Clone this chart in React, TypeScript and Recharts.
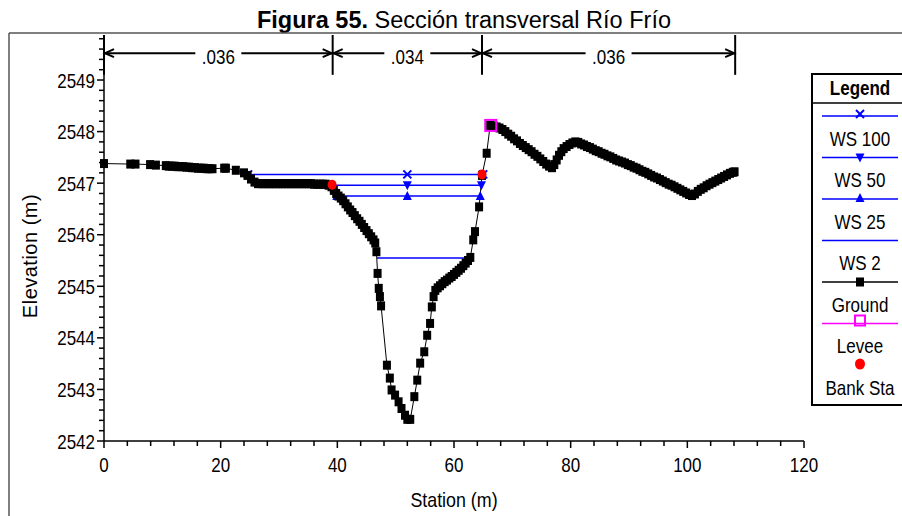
import { ComposedChart, Line, Scatter, XAxis, YAxis, ReferenceLine } from "recharts";

// ground profile (station m, elevation m)
const groundStation = [
  0, 4.5, 5.4, 7.9, 8.9, 10.6, 11.1, 11.6, 12.1, 12.6, 13.1, 13.6, 14.1, 14.6, 15.1, 15.6, 16.1, 16.6, 17.1, 17.6,
  18.1, 18.6, 20.6, 20.9, 22.6, 24.0, 24.6, 25.2, 25.8, 26.4, 27.0, 27.5, 28.0, 28.5, 29.0, 29.5, 30.0, 30.5, 31.0,
  31.5, 32.0, 32.5, 33.0, 33.5, 34.0, 34.5, 35.0, 35.5, 36.0, 36.5, 37.0, 37.5, 38.0, 38.5, 39.0,
  // channel
  39.4, 39.8, 40.2, 40.6, 41.0, 41.4, 41.8, 42.2, 42.6, 43.0, 43.4, 43.8, 44.2, 44.6, 45.0, 45.4, 45.8, 46.2, 46.5,
  46.7, 46.9, 47.1, 47.3, 47.5, 48.5, 49.0, 49.3, 49.9, 50.5, 51.0, 51.6, 52.0, 52.5, 53.2, 53.7, 54.2, 54.9, 55.4,
  55.9, 56.2, 56.5, 56.8, 57.2, 57.6, 58.0, 58.4, 58.8, 59.2, 59.6, 60.0, 60.4, 60.8, 61.2, 61.6, 62.0, 62.4, 62.8,
  63.3, 63.6, 64.3, 64.8, 65.6,
  // right overbank
  66.2, 66.8, 67.3, 67.8, 68.3, 68.8, 69.3, 69.8, 70.3, 70.8, 71.3, 71.8, 72.3, 72.8, 73.3, 73.8, 74.3, 74.8, 75.3,
  75.8, 76.3, 76.8, 77.2, 77.6, 78.0, 78.4, 78.8, 79.3, 79.8, 80.3, 80.8, 81.3, 81.8, 82.3, 82.8, 83.3, 83.8, 84.3,
  84.8, 85.3, 85.8, 86.3, 86.8, 87.3, 87.8, 88.3, 88.8, 89.3, 89.8, 90.3, 90.8, 91.3, 91.8, 92.3, 92.8, 93.3, 93.8,
  94.3, 94.8, 95.3, 95.8, 96.3, 96.8, 97.3, 97.8, 98.3, 98.8, 99.3, 99.8, 100.3, 100.8, 101.3, 101.8, 102.3, 102.8,
  103.3, 103.8, 104.3, 104.8, 105.3, 105.8, 106.3, 106.8, 107.3, 107.8, 108.1,
];
const groundElev = [
  2547.38, 2547.37, 2547.37, 2547.36, 2547.35, 2547.34, 2547.33, 2547.33, 2547.33, 2547.32, 2547.32, 2547.32,
  2547.31, 2547.31, 2547.3, 2547.3, 2547.29, 2547.29, 2547.29, 2547.28, 2547.28, 2547.28, 2547.29, 2547.29, 2547.25,
  2547.2, 2547.15, 2547.08, 2547.02, 2546.99, 2546.99, 2546.99, 2546.99, 2546.99, 2546.99, 2546.99, 2546.99,
  2546.99, 2546.99, 2546.99, 2546.99, 2546.99, 2546.99, 2546.99, 2546.99, 2546.99, 2546.99, 2546.99, 2546.98,
  2546.98, 2546.98, 2546.98, 2546.98, 2546.96, 2546.93,
  // channel
  2546.86, 2546.8, 2546.75, 2546.71, 2546.66, 2546.6, 2546.54, 2546.48, 2546.43, 2546.37, 2546.31, 2546.26, 2546.2,
  2546.14, 2546.08, 2546.02, 2545.96, 2545.9, 2545.84, 2545.67, 2545.25, 2544.96, 2544.8, 2544.62, 2543.47, 2543.22,
  2542.99, 2542.89, 2542.76, 2542.63, 2542.5, 2542.42, 2542.42, 2542.86, 2543.18, 2543.51, 2543.73, 2544.05, 2544.28,
  2544.6, 2544.8, 2544.92, 2544.97, 2545.01, 2545.05, 2545.09, 2545.12, 2545.16, 2545.19, 2545.23, 2545.27, 2545.31,
  2545.35, 2545.4, 2545.45, 2545.5, 2545.56, 2545.9, 2546.06, 2546.54, 2547.15, 2547.58,
  // right overbank
  2548.12, 2548.11, 2548.09, 2548.07, 2548.04, 2548.0, 2547.95, 2547.91, 2547.86, 2547.82, 2547.77, 2547.73, 2547.69,
  2547.65, 2547.61, 2547.56, 2547.52, 2547.47, 2547.42, 2547.37, 2547.33, 2547.3, 2547.36, 2547.45, 2547.54, 2547.61,
  2547.67, 2547.71, 2547.75, 2547.78, 2547.8, 2547.79, 2547.76, 2547.74, 2547.71, 2547.69, 2547.66, 2547.63, 2547.61,
  2547.58, 2547.56, 2547.53, 2547.51, 2547.48, 2547.45, 2547.43, 2547.41, 2547.39, 2547.36, 2547.34, 2547.31, 2547.29,
  2547.26, 2547.23, 2547.21, 2547.18, 2547.15, 2547.12, 2547.1, 2547.07, 2547.04, 2547.01, 2546.98, 2546.96, 2546.93,
  2546.9, 2546.87, 2546.84, 2546.81, 2546.78, 2546.76, 2546.79, 2546.84, 2546.88, 2546.91, 2546.95, 2546.98, 2547.01,
  2547.04, 2547.07, 2547.1, 2547.13, 2547.16, 2547.19, 2547.21, 2547.22,
];

// water surfaces
const ws100Station = [24.7, 52, 65.0];
const ws100Elev = 2547.17;
const ws50Station = [38.5, 52, 64.7];
const ws50Elev = 2546.96;
const ws25Station = [39.9, 52, 64.5];
const ws25Elev = 2546.75;
const ws2Station = [46.8, 62.9];
const ws2Elev = 2545.55;

const bankStation = [39.1, 64.8];
const bankElev = [2546.97, 2547.17];
const leveeStation = [66.3];
const leveeElev = [2548.12];

// manning's n
const nBreaks = [0, 39.2, 64.8, 108.2];
const nValues = [".036", ".034", ".036"];

const xMajor = [0, 20, 40, 60, 80, 100, 120];
const yMajor = [2542, 2543, 2544, 2545, 2546, 2547, 2548, 2549];

const xTicks: number[] = [];
for (let v = 0; v <= 120; v += 4) xTicks.push(v);
const yTicks: number[] = [];
for (let i = 0; i < 40; i++) yTicks.push(Math.round((2542 + i * 0.2) * 10) / 10);

const Y_TOP = 2549.873;
const N_ARROW_Y = 2549.52;
const N_LINE_Y = 2549.1;

const SANS = "'Liberation Sans', Arial, sans-serif";
const SQ = 0.85; // the original figure is squeezed sideways
const BLUE = "#0000ff";

const groundData = groundStation.map((x, i) => ({ x, y: groundElev[i] }));
const flat = (st: number[], e: number) => st.map((x) => ({ x, y: e }));
const bankData = bankStation.map((x, i) => ({ x, y: bankElev[i] }));
const leveeData = leveeStation.map((x, i) => ({ x, y: leveeElev[i] }));

const NText = ({ x, y, anchor = "middle", size = 20, weight, children }: any) => (
  <text
    transform={`translate(${x} ${y}) scale(${SQ} 1)`}
    textAnchor={anchor}
    fontSize={size}
    fontWeight={weight}
    fontFamily={SANS}
    fill="#000"
    stroke="none"
  >
    {children}
  </text>
);

const XTick = ({ x, y, payload }: any) => {
  const major = xMajor.includes(payload.value);
  return (
    <g>
      <line x1={x} x2={x} y1={y} y2={y + (major ? 7 : 5)} stroke="#000" strokeWidth={1.5} />
      {major && <NText x={x} y={y + 31}>{payload.value}</NText>}
    </g>
  );
};

const YTick = ({ x, y, payload }: any) => {
  const major = yMajor.includes(payload.value);
  return (
    <g>
      <line x1={x - (major ? 7 : 5)} x2={x} y1={y} y2={y} stroke="#000" strokeWidth={1.5} />
      {major && <NText x={x - 9} y={y + 7.5} anchor="end">{payload.value}</NText>}
    </g>
  );
};

const square = (p: any) => (
  <rect key={p.index} x={p.cx - 4} y={p.cy - 4.5} width={8} height={9} fill="#000" />
);
const cross = (p: any) => (
  <g key={p.index} stroke={BLUE} strokeWidth={2}>
    <line x1={p.cx - 4} y1={p.cy - 4} x2={p.cx + 4} y2={p.cy + 4} />
    <line x1={p.cx - 4} y1={p.cy + 4} x2={p.cx + 4} y2={p.cy - 4} />
  </g>
);
const triDown = (p: any) => (
  <polygon key={p.index} points={`${p.cx - 4.5},${p.cy - 4} ${p.cx + 4.5},${p.cy - 4} ${p.cx},${p.cy + 5}`} fill={BLUE} />
);
const triUp = (p: any) => (
  <polygon key={p.index} points={`${p.cx - 4.5},${p.cy + 4} ${p.cx + 4.5},${p.cy + 4} ${p.cx},${p.cy - 5}`} fill={BLUE} />
);

const nArrow = (label: string) => (p: any) => {
  const { x1, y1, x2 } = p;
  const mid = (x1 + x2) / 2;
  const half = 23;
  return (
    <g stroke="#000" strokeWidth={2} fill="none">
      <line x1={x1} y1={y1} x2={mid - half} y2={y1} />
      <line x1={mid + half} y1={y1} x2={x2} y2={y1} />
      <polyline points={`${x1 + 10},${y1 - 4} ${x1 + 1},${y1} ${x1 + 10},${y1 + 4}`} />
      <polyline points={`${x2 - 10},${y1 - 4} ${x2 - 1},${y1} ${x2 - 10},${y1 + 4}`} />
      <NText x={mid} y={y1 + 11}>{label}</NText>
    </g>
  );
};

const legendItems = [
  { name: "WS 100", color: BLUE, marker: "x" },
  { name: "WS 50", color: BLUE, marker: "down" },
  { name: "WS 25", color: BLUE, marker: "up" },
  { name: "WS 2", color: BLUE, marker: "none" },
  { name: "Ground", color: "#000", marker: "square" },
  { name: "Levee", color: "#ff00ff", marker: "open" },
  { name: "Bank Sta", color: "#ff0000", marker: "dot" },
];

function LegendBox() {
  const cx = 49;
  return (
    <svg width={100} height={333} style={{ position: "absolute", left: 811, top: 73 }}>
      <rect x={1} y={1} width={110} height={331} fill="#fff" stroke="#000" strokeWidth={2} />
      <NText x={cx} y={22} weight="bold">Legend</NText>
      <line x1={1} x2={100} y1={30} y2={30} stroke="#000" strokeWidth={1.5} />
      {legendItems.map((it, i) => {
        const ly = 43 + i * 41.5;
        return (
          <g key={it.name}>
            {it.marker !== "dot" && <line x1={11} x2={87} y1={ly} y2={ly} stroke={it.color} strokeWidth={1.5} />}
            {it.marker === "x" && cross({ cx, cy: ly - 2, index: 0 })}
            {it.marker === "down" && triDown({ cx, cy: ly, index: 0 })}
            {it.marker === "up" && triUp({ cx, cy: ly - 1, index: 0 })}
            {it.marker === "square" && square({ cx, cy: ly, index: 0 })}
            {it.marker === "open" && (
              <rect x={cx - 5} y={ly - 8} width={10} height={10} fill="none" stroke={it.color} strokeWidth={2} />
            )}
            {it.marker === "dot" && <ellipse cx={cx} cy={ly - 1} rx={5} ry={5.5} fill={it.color} />}
            <NText x={cx} y={ly + 29.5}>{it.name}</NText>
          </g>
        );
      })}
    </svg>
  );
}

export default function App() {
  return (
    <div style={{ position: "absolute", left: 0, top: 0, width: 902, height: 516, overflow: "hidden", background: "#fff" }}>
      <svg width={902} height={516} style={{ position: "absolute", left: 0, top: 0 }}>
        <text x={464} y={28} textAnchor="middle" fontSize={23.5} fontFamily={SANS} fill="#000">
          <tspan fontWeight="bold">Figura 55.</tspan> Sección transversal Río Frío
        </text>
        <line x1={9} x2={902} y1={33} y2={33} stroke="#555" strokeWidth={1.5} />
        <line x1={9} x2={9} y1={33} y2={516} stroke="#555" strokeWidth={1.5} />
      </svg>
      <div style={{ position: "absolute", left: 0, top: 0 }}>
        <ComposedChart width={902} height={516} margin={{ top: 35, right: 98, bottom: 35, left: 44 }}>
          <XAxis
            type="number"
            dataKey="x"
            domain={[0, 120]}
            ticks={xTicks}
            interval={0}
            tickSize={0}
            tickMargin={0}
            tickLine={false}
            tick={<XTick />}
            height={40}
            axisLine={{ stroke: "#000", strokeWidth: 1.5 }}
            label={{
              content: ({ viewBox }: any) => (
                <NText x={viewBox.x + viewBox.width / 2} y={507} size={21}>Station (m)</NText>
              ),
            }}
          />
          <YAxis
            type="number"
            dataKey="y"
            domain={[2542, Y_TOP]}
            ticks={yTicks}
            interval={0}
            tickSize={0}
            tickMargin={0}
            tickLine={false}
            tick={<YTick />}
            width={60}
            axisLine={{ stroke: "#000", strokeWidth: 1.5 }}
            label={{
              content: () => (
                <text x={37} y={256} transform="rotate(-90 37 256)" textAnchor="middle" fontSize={20} fontFamily={SANS} letterSpacing={0.5}>
                  Elevation (m)
                </text>
              ),
            }}
          />
          {nBreaks.map((b) => (
            <ReferenceLine
              key={"v" + b}
              segment={[{ x: b, y: N_LINE_Y }, { x: b, y: Y_TOP }]}
              stroke="#000"
              strokeWidth={2}
              ifOverflow="visible"
            />
          ))}
          {nValues.map((n, i) => (
            <ReferenceLine
              key={"n" + i}
              segment={[{ x: nBreaks[i], y: N_ARROW_Y }, { x: nBreaks[i + 1], y: N_ARROW_Y }]}
              ifOverflow="visible"
              shape={nArrow(n)}
            />
          ))}
          <Line data={flat(ws2Station, ws2Elev)} dataKey="y" stroke={BLUE} strokeWidth={1.5} dot={false} activeDot={false} isAnimationActive={false} />
          <Line data={flat(ws25Station, ws25Elev)} dataKey="y" stroke={BLUE} strokeWidth={1.5} dot={triUp} activeDot={false} isAnimationActive={false} />
          <Line data={flat(ws50Station, ws50Elev)} dataKey="y" stroke={BLUE} strokeWidth={1.5} dot={triDown} activeDot={false} isAnimationActive={false} />
          <Line data={flat(ws100Station, ws100Elev)} dataKey="y" stroke={BLUE} strokeWidth={1.5} dot={cross} activeDot={false} isAnimationActive={false} />
          <Line data={groundData} dataKey="y" stroke="#000" strokeWidth={1} dot={square} activeDot={false} isAnimationActive={false} />
          <Scatter
            data={leveeData}
            dataKey="y"
            isAnimationActive={false}
            shape={(p: any) => <rect x={p.cx - 5.5} y={p.cy - 5.5} width={11} height={11} fill="none" stroke="#ff00ff" strokeWidth={2} />}
          />
          <Scatter
            data={bankData}
            dataKey="y"
            isAnimationActive={false}
            shape={(p: any) => <ellipse cx={p.cx} cy={p.cy} rx={4.5} ry={5} fill="#ff0000" />}
          />
        </ComposedChart>
      </div>
      <LegendBox />
    </div>
  );
}
